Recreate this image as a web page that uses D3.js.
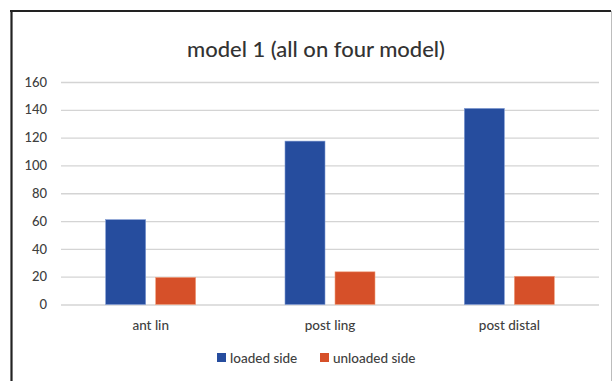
<!DOCTYPE html>
<html>
<head>
<meta charset="utf-8">
<script src="https://cdn.jsdelivr.net/npm/d3@7"></script>
<style>
  html, body { margin: 0; padding: 0; background: #ffffff; }
  svg { display: block; }
</style>
</head>
<body>
<svg id="chart" width="613" height="381"></svg>
<script>
// Chart data
const categories = ["ant lin", "post ling", "post distal"];
const seriesNames = ["loaded side", "unloaded side"];
const loadedSide = [61, 117.5, 141];
const unloadedSide = [19.5, 23.5, 20.3];
const yTicks = [0, 20, 40, 60, 80, 100, 120, 140, 160];
const titleText = "model 1 (all on four model)";

const colors = ["#264d9e", "#d65029"];
const values = [loadedSide, unloadedSide];

const svg = d3.select("#chart");
const W = 613, H = 381;
const font = "Lato, 'Open Sans', sans-serif";
const textColor = "#404040";

// Chart frame
svg.append("rect").attr("x", 0).attr("y", 0).attr("width", W).attr("height", H).attr("fill", "#fff");
svg.append("line").attr("x1", 10).attr("x2", 611).attr("y1", 11).attr("y2", 11)
  .attr("stroke", "#222").attr("stroke-width", 2.2);
svg.append("line").attr("x1", 11.5).attr("x2", 11.5).attr("y1", 10).attr("y2", H)
  .attr("stroke", "#222").attr("stroke-width", 2.2);
svg.append("line").attr("x1", 611.5).attr("x2", 611.5).attr("y1", 11).attr("y2", H)
  .attr("stroke", "#bdbdbd").attr("stroke-width", 1);

const plot = { left: 61, right: 599, top: 82, bottom: 304.5 };

const x0 = d3.scaleBand().domain(categories).range([plot.left, plot.right]).padding(0);
const y = d3.scaleLinear().domain([0, 160]).range([plot.bottom, plot.top]);
const groupWidth = 90;
const x1 = d3.scaleBand().domain(seriesNames).range([0, groupWidth]).paddingInner(0.2).paddingOuter(0);

// Gridlines and value labels
const yAxis = d3.axisLeft(y).tickValues(yTicks).tickSize(-(plot.right - plot.left)).tickPadding(14);
const gy = svg.append("g").attr("transform", `translate(${plot.left},0)`).call(yAxis);
gy.select(".domain").remove();
gy.selectAll(".tick line").attr("stroke", "#d4d4d4").attr("stroke-width", 1.3);
gy.selectAll(".tick text")
  .attr("fill", textColor).attr("font-family", font).attr("font-size", 13).attr("font-weight", 500);

// Bars
seriesNames.forEach((s, si) => {
  svg.append("g").selectAll("rect").data(categories).join("rect")
    .attr("x", c => x0(c) + x0.bandwidth() / 2 - groupWidth / 2 + x1(s))
    .attr("y", (c, i) => y(values[si][i]))
    .attr("width", x1.bandwidth())
    .attr("height", (c, i) => y(0) - y(values[si][i]))
    .attr("fill", colors[si])
    .attr("stroke", si === 0 ? "#7f9ad2" : "#f0a07e")
    .attr("stroke-width", 0.6);
});

// Category axis labels
const xAxis = d3.axisBottom(x0).tickSize(0).tickPadding(16);
const gx = svg.append("g").attr("transform", `translate(0,${plot.bottom})`).call(xAxis);
gx.select(".domain").remove();
gx.selectAll(".tick text")
  .attr("fill", textColor).attr("font-family", font).attr("font-size", 13.5).attr("font-weight", 500);

// Title
svg.append("text").attr("x", 316).attr("y", 57).attr("text-anchor", "middle")
  .attr("font-family", font).attr("font-size", 22).attr("font-weight", 500).attr("fill", "#333")
  .text(titleText);

// Legend
const legendItems = [{ x: 217 }, { x: 320 }];
const lg = svg.append("g");
seriesNames.forEach((s, i) => {
  lg.append("rect").attr("x", legendItems[i].x).attr("y", 353).attr("width", 9).attr("height", 9)
    .attr("fill", colors[i]);
  lg.append("text").attr("x", legendItems[i].x + 13).attr("y", 362.5)
    .attr("font-family", font).attr("font-size", 13.5).attr("font-weight", 500).attr("fill", textColor)
    .text(s);
});
</script>
</body>
</html>
